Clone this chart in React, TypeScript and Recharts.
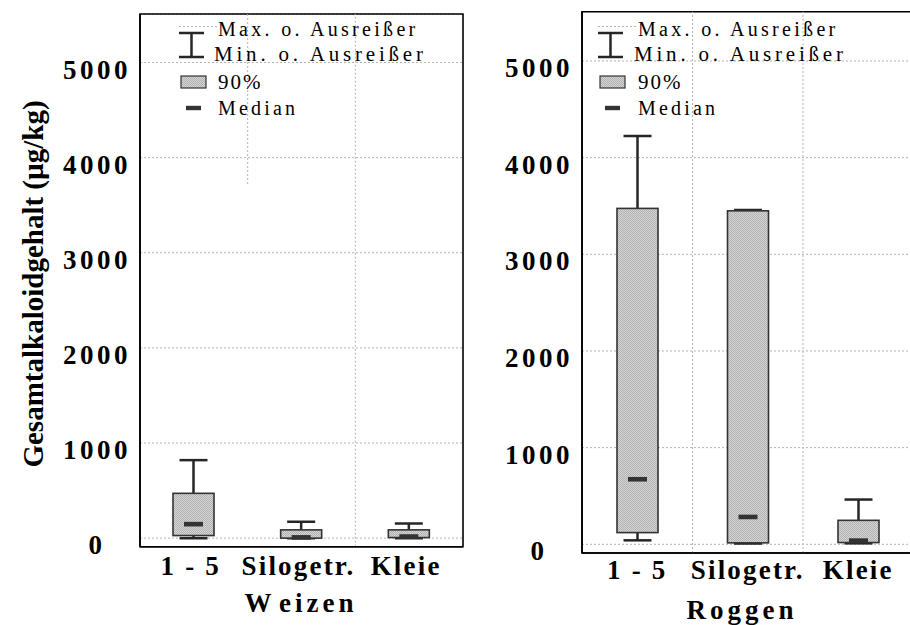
import React from "react";
import {
  ComposedChart,
  Bar,
  XAxis,
  YAxis,
  CartesianGrid,
  ReferenceLine,
  ReferenceArea,
} from "recharts";

// categories and tick values
const categories = ["1 - 5", "Silogetr.", "Kleie"];
const yTicks = [0, 1000, 2000, 3000, 4000, 5000];
const yDomain = [-90, 5510];

// Weizen (µg/kg)
const weizenMax = [820, 171, 153];
const weizenHigh = [471, 87, 87];
const weizenMedian = [147, 8, 17];
const weizenLow = [27, 0, 6];
const weizenMin = [0, 0, 0];

// Roggen (µg/kg)
const roggenMax = [4224, 3458, 463];
const roggenHigh = [3475, 3450, 248];
const roggenMedian = [673, 283, 38];
const roggenLow = [121, 15, 18];
const roggenMin = [41, 8, 10];

const legendLabels = ["Max. o. Ausreißer", "Min. o. Ausreißer", "90%", "Median"];

const buildRows = (mx: number[], hi: number[], md: number[], lo: number[], mn: number[]) =>
  categories.map((cat, i) => ({
    cat,
    max: mx[i],
    high: hi[i],
    median: md[i],
    low: lo[i],
    min: mn[i],
  }));

const weizenData = buildRows(weizenMax, weizenHigh, weizenMedian, weizenLow, weizenMin);
const roggenData = buildRows(roggenMax, roggenHigh, roggenMedian, roggenLow, roggenMin);

const SERIF = "'Liberation Serif', 'Times New Roman', serif";
const GRID = "#b4b4b4";

// whole box plot drawn from the [min, max] bar geometry
const BoxShape = (props: any) => {
  const { x, width, payload } = props;
  let { y, height } = props;
  if (height < 0) {
    y = y + height;
    height = -height;
  }
  const { min, max, low, high, median } = payload;
  const toY = (v: number) => y + (height * (max - v)) / (max - min);
  const cx = x + width / 2;
  const cap = 14;
  const ink = "#262626";
  return (
    <g>
      <line x1={cx} x2={cx} y1={toY(max)} y2={toY(high)} stroke={ink} strokeWidth={2.5} />
      <line x1={cx} x2={cx} y1={toY(low)} y2={toY(min)} stroke={ink} strokeWidth={2.5} />
      <line x1={cx - cap} x2={cx + cap} y1={toY(max)} y2={toY(max)} stroke={ink} strokeWidth={2.5} />
      <line x1={cx - cap} x2={cx + cap} y1={toY(min)} y2={toY(min)} stroke={ink} strokeWidth={2.5} />
      <rect
        x={x}
        y={toY(high)}
        width={width}
        height={Math.max(toY(low) - toY(high), 0.5)}
        fill="url(#hatch)"
        stroke="#333"
        strokeWidth={1.6}
      />
      <rect x={cx - 9.5} y={toY(median) - 2.3} width={19} height={4.6} fill="#333" />
    </g>
  );
};

const YTick = ({ x, y, payload }: any) => (
  <text
    x={x - 43}
    y={y + 16}
    textAnchor="middle"
    fontFamily={SERIF}
    fontWeight="bold"
    fontSize={27}
    letterSpacing={3.5}
    fill="#000"
  >
    {payload.value}
  </text>
);

const makeXTick = (dy: number, dx: number) => ({ x, y, payload }: any) => (
  <text
    x={x + dx}
    y={y + dy}
    textAnchor="middle"
    fontFamily={SERIF}
    fontWeight="bold"
    fontSize={27}
    letterSpacing={2.2}
    fill="#000"
  >
    {payload.value}
  </text>
);

const gridLine = { stroke: GRID, strokeDasharray: "2 2", strokeWidth: 1 };

const Legend = ({ left, textLeft }: { left: number; textLeft: number }) => {
  const ink = "#262626";
  return (
    <g fontFamily={SERIF} fill="#000">
      <line x1={left} x2={left + 38} y1={26.5} y2={26.5} {...gridLine} />
      <line x1={left} x2={left + 25} y1={33} y2={33} stroke={ink} strokeWidth={2.5} />
      <line x1={left + 12.5} x2={left + 12.5} y1={33} y2={57} stroke={ink} strokeWidth={2.5} />
      <line x1={left} x2={left + 25} y1={57} y2={57} stroke={ink} strokeWidth={2.5} />
      <text x={textLeft} y={36} fontSize={20} letterSpacing={3.3}>{legendLabels[0]}</text>
      <text x={textLeft - 4} y={61} fontSize={21} letterSpacing={3.8}>{legendLabels[1]}</text>
      <rect x={left + 2} y={76} width={25} height={12} fill="url(#hatch)" stroke="#333" strokeWidth={1.2} />
      <text x={textLeft} y={89} fontSize={21} letterSpacing={2}>{legendLabels[2]}</text>
      <rect x={left + 7} y={105.8} width={15} height={4.4} fill="#333" />
      <text x={textLeft} y={115} fontSize={20} letterSpacing={3.2}>{legendLabels[3]}</text>
    </g>
  );
};

export default function App() {
  return (
    <div
      style={{
        position: "absolute",
        left: 0,
        top: 0,
        width: 910,
        height: 625,
        overflow: "hidden",
        background: "#fff",
      }}
    >
      {/* left panel: Weizen */}
      <div style={{ position: "absolute", left: 0, top: 0 }}>
        <ComposedChart
          width={470}
          height={625}
          data={weizenData}
          margin={{ top: 14, right: 7, bottom: 38, left: 0 }}
          barSize={41}
        >
          <CartesianGrid vertical={false} {...gridLine} />
          <XAxis
            dataKey="cat"
            height={40.3}
            tick={makeXTick(28, -3)}
            tickSize={0}
            tickMargin={0}
            interval={0}
            axisLine={{ stroke: "#000", strokeWidth: 1.6 }}
            tickLine={false}
          />
          <YAxis
            width={140}
            domain={yDomain}
            ticks={yTicks}
            interval={0}
            allowDataOverflow
            tick={<YTick />}
            tickSize={0}
            tickMargin={0}
            axisLine={{ stroke: "#000", strokeWidth: 1.6 }}
            tickLine={false}
          />
          <ReferenceLine x="Silogetr." position="end" {...gridLine} />
          <ReferenceLine
            segment={[
              { x: "1 - 5", y: 5510 },
              { x: "1 - 5", y: 3720 },
            ]}
            position="end"
            {...gridLine}
          />
          <Bar
            dataKey={(d: any) => [d.min, d.max]}
            shape={<BoxShape />}
            isAnimationActive={false}
          />
          <ReferenceArea y1={yDomain[0]} y2={yDomain[1]} fill="none" stroke="#000" strokeWidth={1.6} ifOverflow="visible" />
        </ComposedChart>
      </div>

      {/* right panel: Roggen */}
      <div style={{ position: "absolute", left: 470, top: 0 }}>
        <ComposedChart
          width={460}
          height={625}
          data={roggenData}
          margin={{ top: 11.7, right: 16.5, bottom: 32, left: 0 }}
          barSize={41}
        >
          <CartesianGrid vertical={false} {...gridLine} />
          <XAxis
            dataKey="cat"
            height={40}
            tick={makeXTick(26, 0)}
            tickSize={0}
            tickMargin={0}
            interval={0}
            axisLine={{ stroke: "#000", strokeWidth: 1.6 }}
            tickLine={false}
          />
          <YAxis
            width={112}
            domain={yDomain}
            ticks={yTicks}
            interval={0}
            allowDataOverflow
            tick={<YTick />}
            tickSize={0}
            tickMargin={0}
            axisLine={{ stroke: "#000", strokeWidth: 1.6 }}
            tickLine={false}
          />
          <ReferenceLine x="1 - 5" position="end" {...gridLine} />
          <ReferenceLine x="Silogetr." position="end" {...gridLine} />
          <Bar
            dataKey={(d: any) => [d.min, d.max]}
            shape={<BoxShape />}
            isAnimationActive={false}
          />
          <ReferenceArea y1={yDomain[0]} y2={yDomain[1]} fill="none" stroke="#000" strokeWidth={1.6} ifOverflow="visible" />
        </ComposedChart>
      </div>

      {/* legends and titles */}
      <svg
        width={910}
        height={625}
        style={{ position: "absolute", left: 0, top: 0, pointerEvents: "none" }}
      >
        <defs>
          <pattern id="hatch" width={2} height={2} patternUnits="userSpaceOnUse">
            <rect width={2} height={2} fill="#d4d4d4" />
            <rect x={0} y={0} width={1} height={1} fill="#b2b2b2" />
            <rect x={1} y={1} width={1} height={1} fill="#b2b2b2" />
          </pattern>
        </defs>
        <Legend left={179} textLeft={218} />
        <Legend left={598} textLeft={638} />
        <text
          x={301}
          y={612}
          textAnchor="middle"
          fontFamily={SERIF}
          fontWeight="bold"
          fontSize={27}
          letterSpacing={4}
        >
          <tspan>W</tspan>
          <tspan dx={5}>eizen</tspan>
        </text>
        <text
          x={742}
          y={619}
          textAnchor="middle"
          fontFamily={SERIF}
          fontWeight="bold"
          fontSize={27}
          letterSpacing={4}
        >
          Roggen
        </text>
        <text
          x={33}
          y={284}
          transform="rotate(-90, 33, 284)"
          textAnchor="middle"
          dominantBaseline="central"
          fontFamily={SERIF}
          fontWeight="bold"
          fontSize={29}
        >
          Gesamtalkaloidgehalt (µg/kg)
        </text>
      </svg>
    </div>
  );
}
